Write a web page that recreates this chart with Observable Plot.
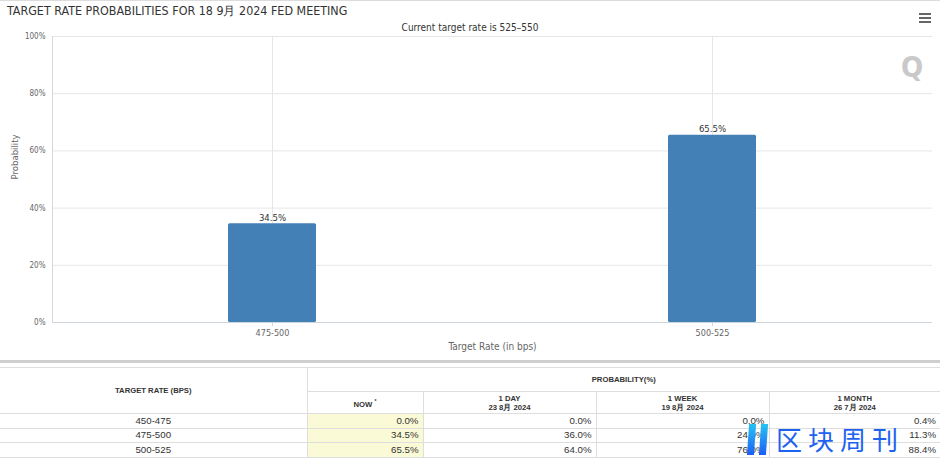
<!DOCTYPE html>
<html>
<head>
<meta charset="utf-8">
<script src="https://cdn.jsdelivr.net/npm/d3@7"></script>
<script src="https://cdn.jsdelivr.net/npm/@observablehq/plot@0.6"></script>
<style>
  html, body { margin: 0; padding: 0; background: #fff; }
  body { width: 940px; height: 458px; overflow: hidden; position: relative; font-family: "DejaVu Sans Condensed", "DejaVu Sans", sans-serif; }
  #topline { position: absolute; left: 0; top: 0; width: 940px; height: 1px; background: #dcdcdc; }
  #title { position: absolute; left: 7px; top: 3px; font-size: 12.4px; color: #333; white-space: nowrap; }
  #subtitle { position: absolute; left: 0; width: 940px; top: 22px; text-align: center; font-size: 10px; color: #333; }
  #menu { position: absolute; left: 919px; top: 13px; width: 12px; }
  #menu div { height: 2px; background: #666; margin-bottom: 2px; }
  #qlogo { position: absolute; left: 901px; top: 50px; font-size: 29px; font-weight: bold; color: #c9c9c9; font-family: "DejaVu Sans Condensed", "DejaVu Sans", sans-serif; }
  #chart { position: absolute; left: 0; top: 0; }
  #sep { position: absolute; left: 0; top: 360px; width: 940px; height: 3px; background: #cfcfcf; }
  #tbl { position: absolute; left: 0; top: 367px; border-collapse: collapse; font-family: "Liberation Sans", Arial, sans-serif; table-layout: fixed; }
  #tbl th, #tbl td { border: 1px solid #dedede; padding: 0 4px; box-sizing: border-box; }
  #tbl th { font-size: 7.7px; font-weight: bold; color: #333; text-align: center; line-height: 9px; }
  #tbl td { font-size: 9.7px; color: #333; height: 14.5px; line-height: 12px; text-align: right; }
  #tbl td.rate { text-align: center; }
  #tbl td.now { background: #fbfad6; }
  #tbl tr.h1 th { height: 24px; }
  #tbl tr.h2 th { height: 22px; }
  #tbl tr > :first-child { border-left: none; }
  #tbl tr > :last-child { border-right: none; }
  #wm { position: absolute; left: 748px; top: 422px; height: 34px; display: flex; align-items: center; }
  #wm .icon { display: flex; gap: 5px; margin-right: 9px; }
  #wm .icon span { width: 7px; height: 31px; background: linear-gradient(#27c3f3, #1d5ef5); transform: skewX(-4deg); display: block; }
  #wm .txt { font-family: "Noto Sans CJK SC", sans-serif; font-size: 26px; color: #1e63f0; letter-spacing: 6px; line-height: 32px; }
</style>
</head>
<body>
<div id="topline"></div>
<div id="chart"></div>
<div id="title"></div>
<div id="subtitle"></div>
<div id="menu"><div></div><div></div><div></div></div>
<div id="qlogo">Q</div>
<div id="sep"></div>
<table id="tbl"></table>
<div id="wm"><div class="icon"><span></span><span></span></div><div class="txt">区块周刊</div></div>
<script>
// ---- chart data ----
const titleText = "TARGET RATE PROBABILITIES FOR 18 9月 2024 FED MEETING";
const subtitleText = "Current target rate is 525–550";
const xLabel = "Target Rate (in bps)";
const yLabel = "Probability";
const rates = ["475-500", "500-525"];
const probabilities = [34.5, 65.5];
const yTicks = [0, 20, 40, 60, 80, 100];

// ---- table data ----
const tableRates = ["450-475", "475-500", "500-525"];
const nowValues = [0.0, 34.5, 65.5];
const dayValues = [0.0, 36.0, 64.0];
const weekValues = [0.0, 24.0, 76.0];
const monthValues = [0.4, 11.3, 88.4];
const colHeaders = ["NOW", "1 DAY", "1 WEEK", "1 MONTH"];
const colDates = ["", "23 8月 2024", "19 8月 2024", "26 7月 2024"];

document.getElementById("title").textContent = titleText;
document.getElementById("subtitle").textContent = subtitleText;

const data = rates.map((r, i) => ({rate: r, p: probabilities[i]}));

const chart = Plot.plot({
  width: 940,
  height: 358,
  marginTop: 36,
  marginBottom: 36,
  marginLeft: 52,
  marginRight: 8,
  style: {fontFamily: "'DejaVu Sans Condensed', 'DejaVu Sans', sans-serif", fontSize: "8px", color: "#666", background: "transparent"},
  x: {domain: rates, paddingInner: 0.8, paddingOuter: 0.4, label: null},
  y: {domain: [0, 100], label: null},
  marks: [
    Plot.gridY(yTicks, {stroke: "#e6e6e6", strokeOpacity: 1}),
    Plot.gridX(rates, {stroke: "#e6e6e6", strokeOpacity: 1}),
    Plot.frame({anchor: "left", stroke: "#d8d8d8"}),
    Plot.ruleY([0], {stroke: "#d0d6e0"}),
    Plot.barY(data, {x: "rate", y: "p", fill: "#4380b6", rx: 1.5}),
    Plot.text(data, {x: "rate", y: "p", text: d => d.p.toFixed(1) + "%", lineAnchor: "bottom", dy: -3, fill: "#333", fontSize: 9.5}),
    Plot.axisY(yTicks, {tickFormat: d => d + "%", tickSize: 0, tickPadding: 7, label: null, fill: "#666"}),
    Plot.axisX({tickSize: 4, tickPadding: 3, label: null, stroke: "#d0d6e0", fill: "#666", fontSize: 9}),
    Plot.text([xLabel], {frameAnchor: "bottom", dy: 24, text: d => d, fontSize: 10, fill: "#666", lineAnchor: "middle"}),
    Plot.text([yLabel], {frameAnchor: "left", dx: -38, text: d => d, rotate: -90, fontSize: 9.5, fill: "#666", lineAnchor: "middle"})
  ]
});
document.getElementById("chart").appendChild(chart);

// ---- table ----
const colWidths = [307, 116, 173, 173, 171];
const tbl = document.getElementById("tbl");
const colgroup = document.createElement("colgroup");
colWidths.forEach(w => { const c = document.createElement("col"); c.style.width = w + "px"; colgroup.appendChild(c); });
tbl.appendChild(colgroup);
const thead = document.createElement("thead");
const h1 = document.createElement("tr"); h1.className = "h1";
const th0 = document.createElement("th"); th0.rowSpan = 2; th0.textContent = "TARGET RATE (BPS)"; h1.appendChild(th0);
const thP = document.createElement("th"); thP.colSpan = 4; thP.textContent = "PROBABILITY(%)"; h1.appendChild(thP);
thead.appendChild(h1);
const h2 = document.createElement("tr"); h2.className = "h2";
colHeaders.forEach((h, i) => {
  const th = document.createElement("th");
  if (i === 0) { th.innerHTML = h + " <sup style='font-size:5px'>*</sup>"; }
  else { th.innerHTML = h + "<br>" + colDates[i]; }
  h2.appendChild(th);
});
thead.appendChild(h2);
tbl.appendChild(thead);
const tbody = document.createElement("tbody");
tableRates.forEach((r, i) => {
  const tr = document.createElement("tr");
  const cells = [r, nowValues[i], dayValues[i], weekValues[i], monthValues[i]];
  cells.forEach((v, j) => {
    const td = document.createElement("td");
    if (j === 0) { td.className = "rate"; td.textContent = v; }
    else { td.textContent = v.toFixed(1) + "%"; if (j === 1) td.className = "now"; }
    tr.appendChild(td);
  });
  tbody.appendChild(tr);
});
tbl.appendChild(tbody);
</script>
</body>
</html>
